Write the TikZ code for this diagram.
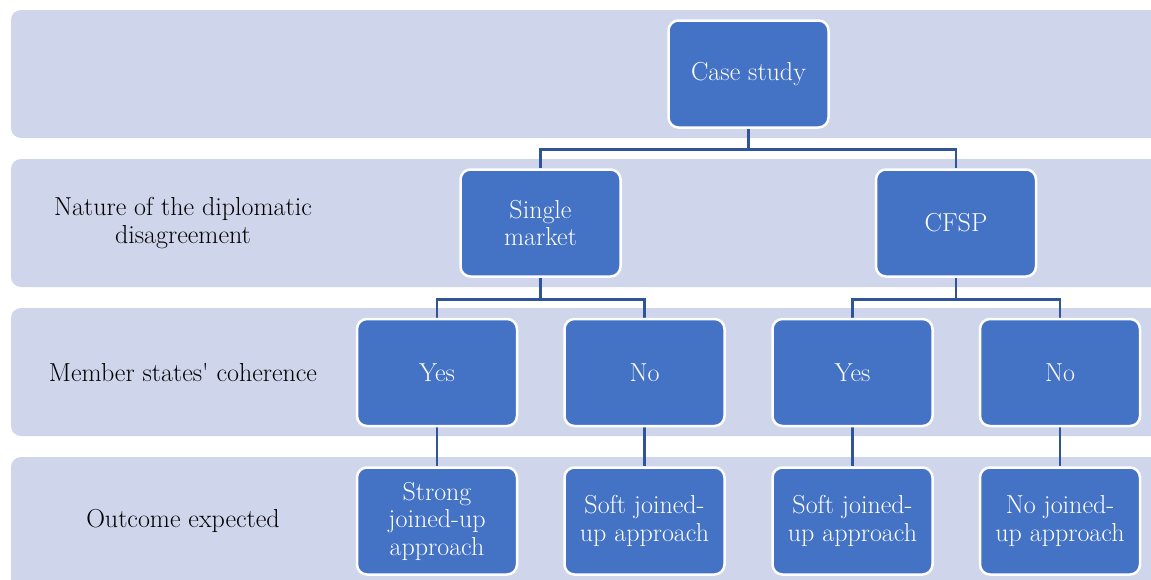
\documentclass[tikz,border=0pt]{standalone}
\usepackage{tikz}
\usetikzlibrary{calc,positioning,backgrounds}
\definecolor{bandcol}{HTML}{CFD5EA}
\definecolor{boxcol}{HTML}{4472C4}
\definecolor{linecol}{HTML}{2F5597}

\begin{document}
\begin{tikzpicture}[x=1pt,y=-1pt]
\tikzstyle{box}=[draw=white, line width=2.5pt, fill=boxcol, rounded corners=10pt, text=white, align=center, minimum width=160pt, minimum height=107pt, inner sep=2pt, font=\fontsize{26}{27.5}\selectfont]
\tikzstyle{lvl}=[align=center, font=\fontsize{26}{27.5}\selectfont]
\tikzstyle{conn}=[draw=linecol, line width=2.8pt]
\useasboundingbox (0,0) rectangle (1151,579);
% tree
\node[box] (case) at (748.5,74) {Case study};
\node[box] (single) at (540.5,223) {Single\\market};
\node[box] (cfsp) at (956,223) {CFSP};
\foreach \n/\x/\t in {yesA/437/Yes,noA/644.5/No,yesB/852.5/Yes,noB/1060/No}{\node[box] (\n) at (\x,372.5){\t};}
\node[box] (strong) at (437,521) {Strong\\joined-up\\approach};
\node[box] (softA) at (644.5,521) {Soft joined-\\up approach};
\node[box] (softB) at (852.5,521) {Soft joined-\\up approach};
\node[box] (nojoin) at (1060,521) {No joined-\\up approach};
% row titles
\node[lvl] (nature) at (183,223) {Nature of the diplomatic\\disagreement};
\node[lvl] (coher) at (183,372.5) {Member states\textquotesingle{} coherence};
\node[lvl] (outc) at (183,521) {Outcome expected};
\begin{scope}[on background layer]
\clip (0,0) rectangle (1151,579);
\foreach \y/\h in {10/128,159/128,308/128,457/140}{\fill[bandcol, rounded corners=10pt] (11,\y) rectangle (1170,\y+\h);}
\foreach \i/\j in {case/single,case/cfsp}{\draw[conn] (\i.south) -- ++(0,21) -| (\j.north);}
\foreach \i/\j in {single/yesA,single/noA,cfsp/yesB,cfsp/noB}{\draw[conn] (\i.south) -- ++(0,21.5) -| (\j.north);}
\foreach \i/\j in {yesA/strong,noA/softA,yesB/softB,noB/nojoin}{\draw[conn] (\i) -- (\j);}
\end{scope}
\end{tikzpicture}
\end{document}
